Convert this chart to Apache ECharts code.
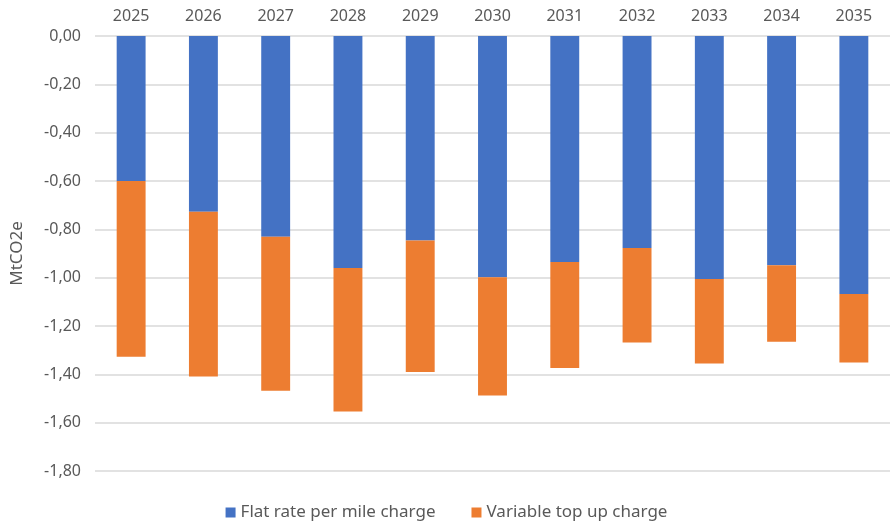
<!DOCTYPE html>
<html>
<head>
<meta charset="utf-8">
<script src="https://cdn.jsdelivr.net/npm/echarts@6/dist/echarts.min.js"></script>
<style>
  html, body { margin: 0; padding: 0; background: #fff; }
  #chart { width: 893px; height: 530px; }
</style>
</head>
<body>
<div id="chart"></div>
<script>
// Years along the top axis
const years = ['2025', '2026', '2027', '2028', '2029', '2030', '2031', '2032', '2033', '2034', '2035'];

// Emissions change per scheme, MtCO2e (stacked)
const flatRate = [-0.60, -0.727, -0.831, -0.960, -0.846, -0.998, -0.935, -0.877, -1.005, -0.949, -1.068];
const variableTopUp = [-0.727, -0.682, -0.637, -0.594, -0.544, -0.490, -0.439, -0.391, -0.350, -0.316, -0.283];

const seriesNames = ['Flat rate per mile charge', 'Variable top up charge'];

const textColor = '#595959';
const fontFamily = '"Noto Sans", "Open Sans", sans-serif';

const chart = echarts.init(document.getElementById('chart'));
chart.setOption({
  animation: false,
  textStyle: { fontFamily: fontFamily },
  grid: { left: 95, right: 3, top: 36, bottom: 59, containLabel: false },
  legend: {
    bottom: 4,
    left: 'center',
    itemWidth: 10,
    itemHeight: 10,
    itemGap: 36,
    icon: 'rect',
    textStyle: { color: textColor, fontSize: 17, fontFamily: fontFamily },
    data: seriesNames
  },
  xAxis: {
    type: 'category',
    position: 'top',
    data: years,
    axisLine: { show: false },
    axisTick: { show: false },
    axisLabel: { color: textColor, fontSize: 16, margin: 12 }
  },
  yAxis: {
    type: 'value',
    min: -1.8,
    max: 0,
    interval: 0.2,
    name: 'MtCO2e',
    nameLocation: 'middle',
    nameGap: 69,
    nameRotate: 90,
    nameTextStyle: { color: textColor, fontSize: 17 },
    axisLine: { show: false },
    axisTick: { show: false },
    axisLabel: {
      color: textColor,
      fontSize: 16,
      margin: 14,
      formatter: function (v) {
        const s = Math.abs(v) < 1e-9 ? '0.00' : v.toFixed(2);
        return s.replace('.', ',');
      }
    },
    splitLine: { lineStyle: { color: '#D9D9D9', width: 1.5 } }
  },
  series: [
    {
      name: seriesNames[0],
      type: 'bar',
      stack: 'total',
      barWidth: '40%',
      itemStyle: { color: '#4472C4' },
      data: flatRate
    },
    {
      name: seriesNames[1],
      type: 'bar',
      stack: 'total',
      barWidth: '40%',
      itemStyle: { color: '#ED7D31' },
      data: variableTopUp
    }
  ]
});
</script>
</body>
</html>
